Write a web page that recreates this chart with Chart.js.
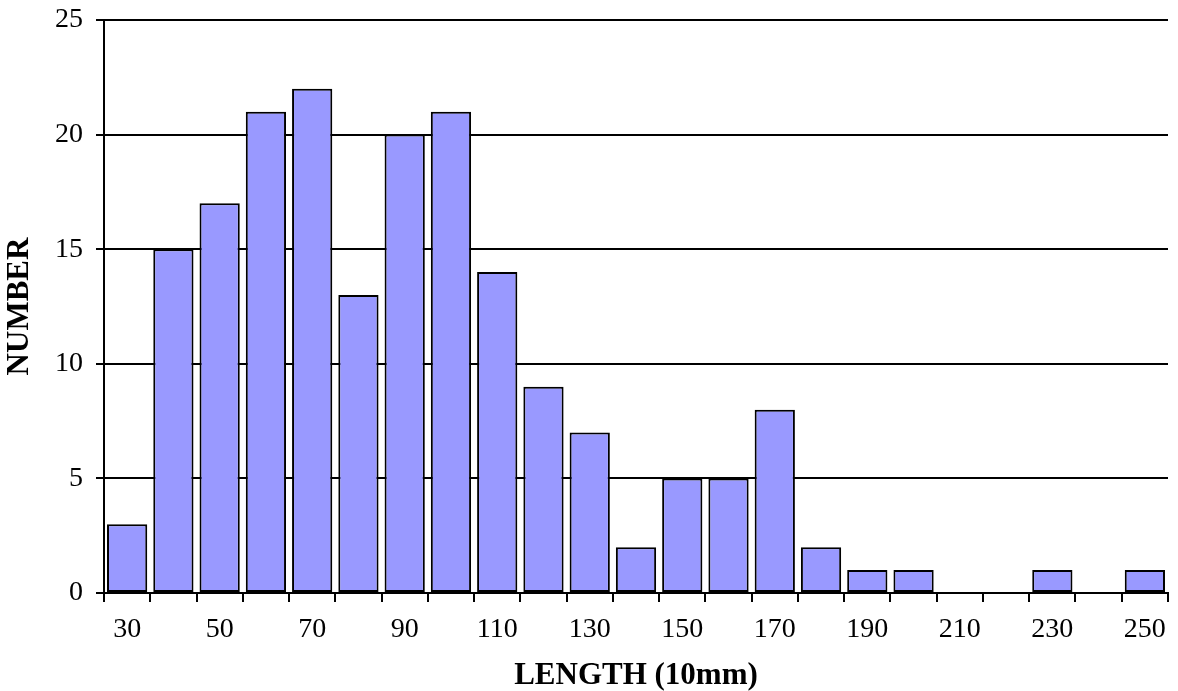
<!DOCTYPE html>
<html>
<head>
<meta charset="utf-8">
<script src="https://cdn.jsdelivr.net/npm/chart.js@4"></script>
<style>
  html, body { margin: 0; padding: 0; background: #fff; }
  #wrap { width: 1178px; height: 691px; }
</style>
</head>
<body>
<div id="wrap"><canvas id="chart"></canvas></div>
<script>
// histogram data
const lengths = [30, 40, 50, 60, 70, 80, 90, 100, 110, 120, 130, 140, 150, 160, 170, 180, 190, 200, 210, 220, 230, 240, 250];
const counts = [3, 15, 17, 21, 22, 13, 20, 21, 14, 9, 7, 2, 5, 5, 8, 2, 1, 1, 0, 0, 1, 0, 1];
const yTicks = [0, 5, 10, 15, 20, 25];

const family = "'Liberation Serif', 'Times New Roman', serif";
const tickFont = { family: family, size: 28 };
const titleFont = { family: family, size: 31, weight: "bold", lineHeight: 1.0 };

new Chart(document.getElementById("chart"), {
  type: "bar",
  data: {
    labels: lengths.map(String),
    datasets: [{
      data: counts,
      backgroundColor: "#9999ff",
      borderColor: "#000",
      borderWidth: 2,
      borderSkipped: false,
      barPercentage: 0.87,
      categoryPercentage: 1.0
    }]
  },
  options: {
    responsive: true,
    maintainAspectRatio: false,
    animation: false,
    layout: { padding: { top: 0, right: 10, left: 0, bottom: 0 } },
    plugins: { legend: { display: false }, tooltip: { enabled: false } },
    scales: {
      x: {
        grid: { offset: true, drawOnChartArea: false, drawTicks: true, tickLength: 9, color: "#000", lineWidth: 2 },
        border: { color: "#000", width: 2 },
        ticks: {
          autoSkip: false, maxRotation: 0, color: "#000", font: tickFont, padding: 11,
          callback: (v, i) => (i % 2 === 0 ? lengths[i] : "")
        },
        title: { display: true, text: "LENGTH (10mm)", color: "#000", font: titleFont, padding: { top: 4, bottom: 0 } },
        afterFit: s => { s.height = 98; }
      },
      y: {
        min: 0, max: 25,
        afterBuildTicks: s => { s.ticks = yTicks.map(v => ({ value: v })); },
        grid: { color: "#000", lineWidth: 2, tickLength: 8 },
        border: { color: "#000", width: 2 },
        ticks: { color: "#000", font: { ...tickFont, lineHeight: 0.5 }, padding: 13 },
        title: { display: true, text: "NUMBER", color: "#000", font: titleFont, padding: { top: 4, bottom: 10 } },
        afterFit: s => { s.width = 104; }
      }
    }
  }
});
</script>
</body>
</html>
